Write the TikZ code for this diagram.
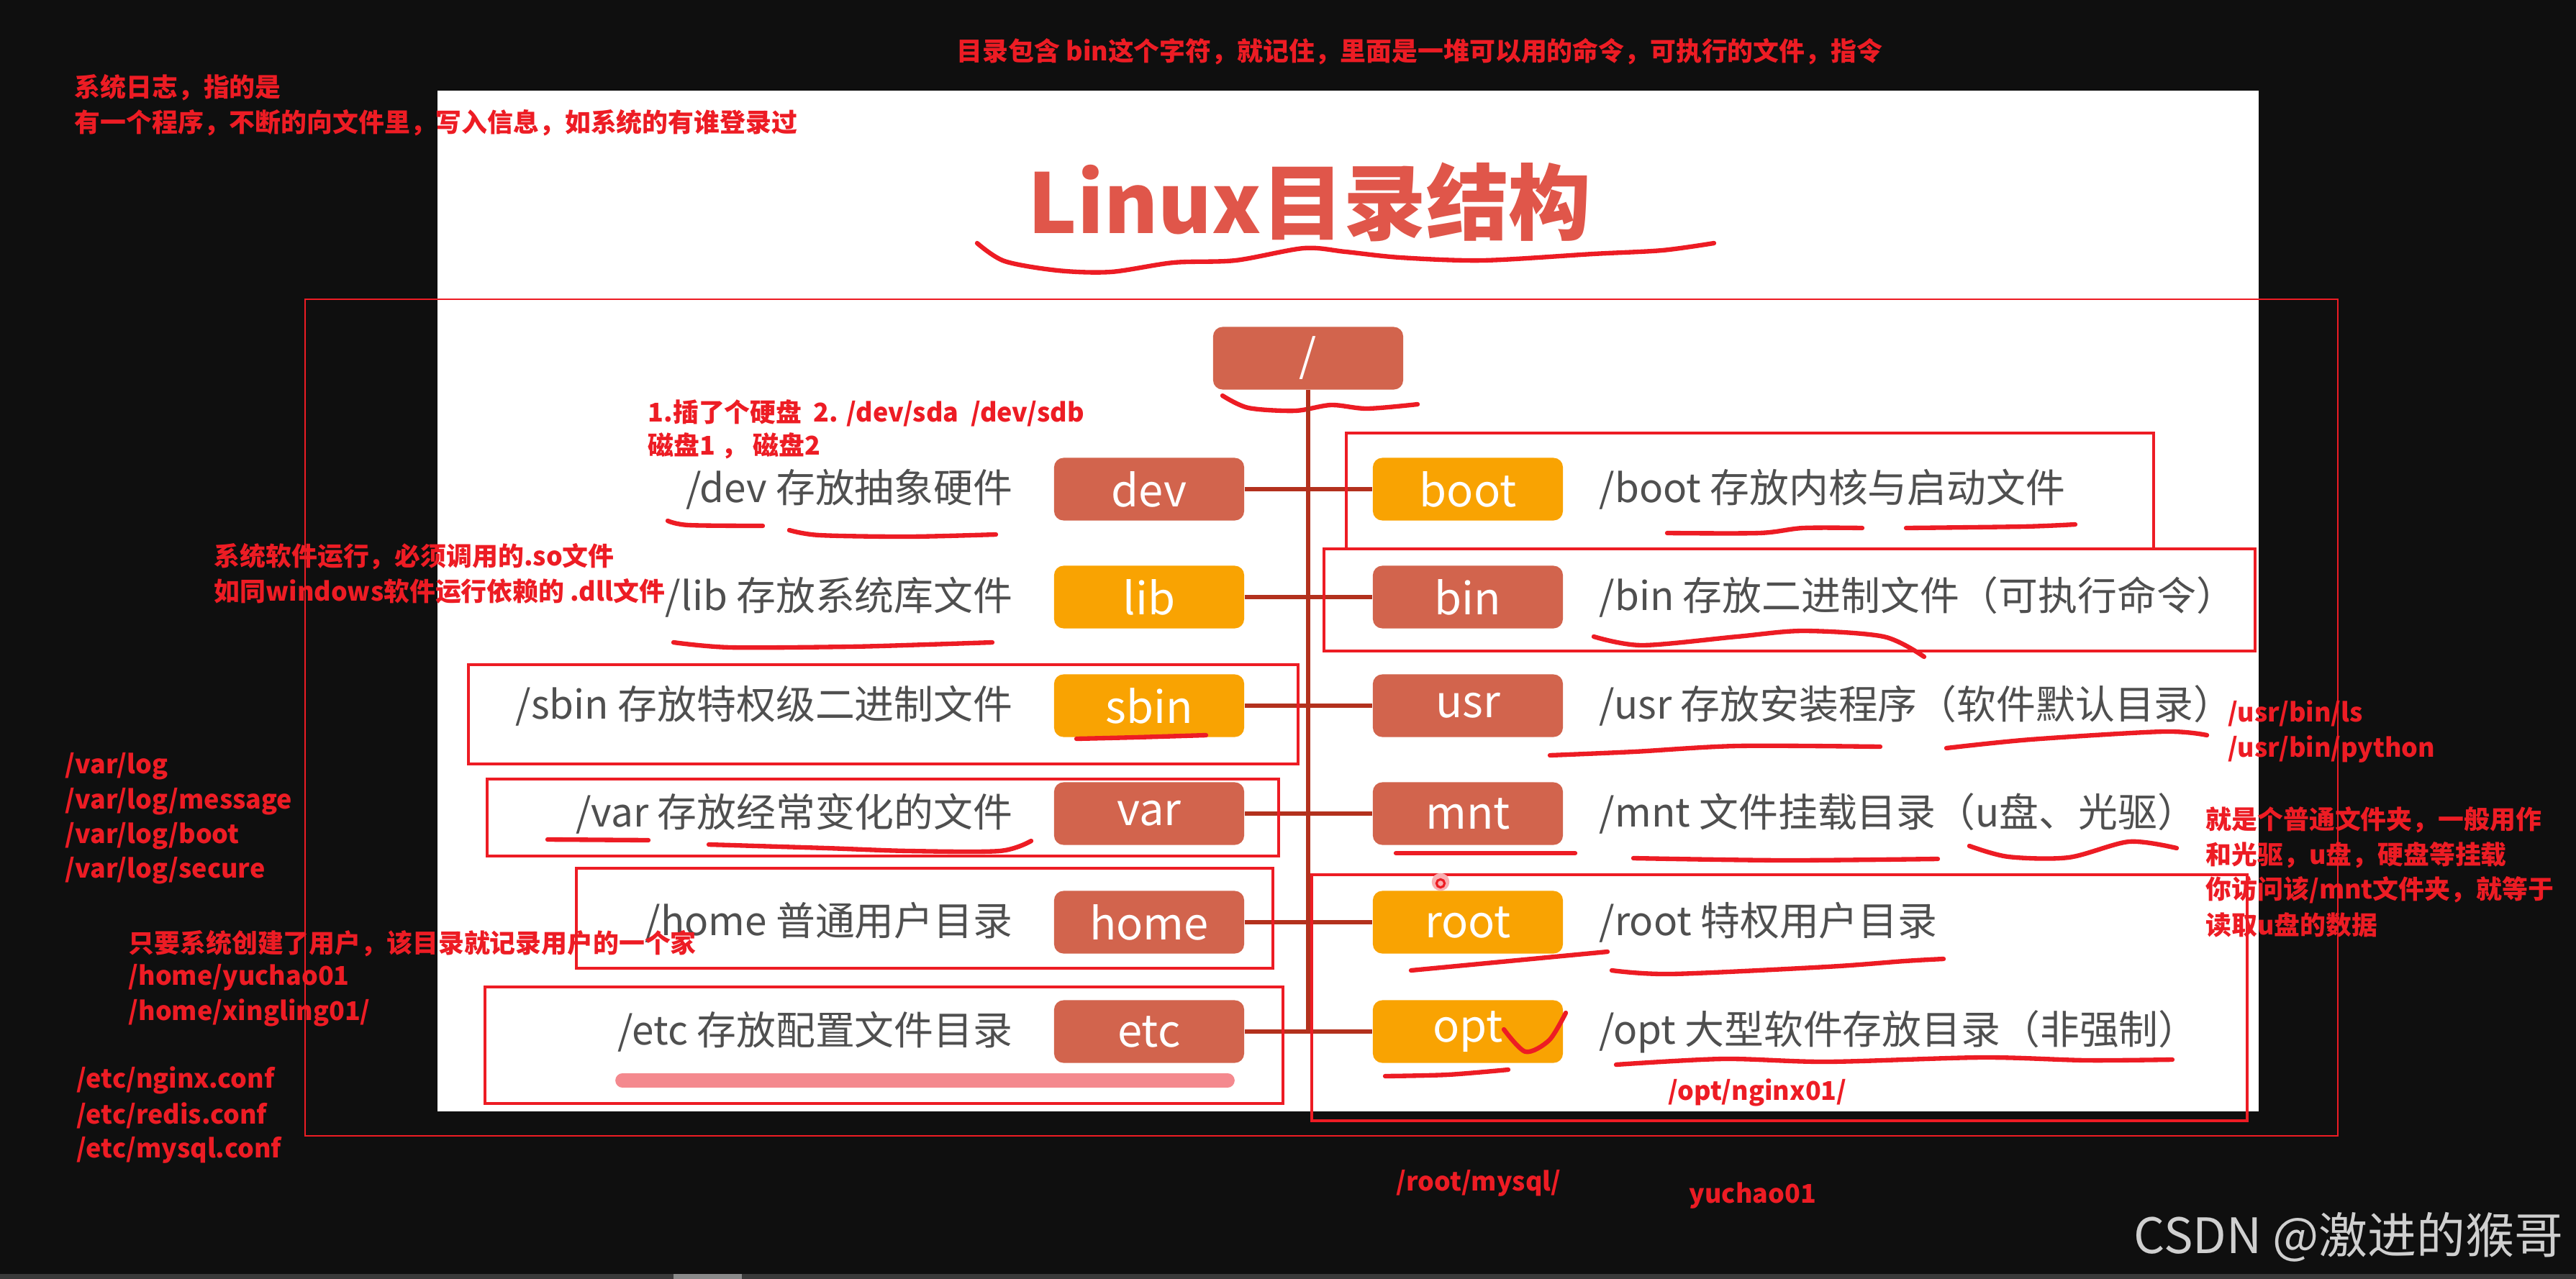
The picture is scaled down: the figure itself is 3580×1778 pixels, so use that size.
\documentclass[tikz,border=0pt]{standalone}
\usepackage{fontspec}
\setmainfont{Noto Sans CJK SC}
\definecolor{bgc}{HTML}{0F0F0F}
\definecolor{annc}{HTML}{ED1C24}
\definecolor{coral}{HTML}{D2644D}
\definecolor{amber}{HTML}{F9A302}
\definecolor{linkc}{HTML}{B3311D}
\definecolor{descc}{HTML}{4F4F4F}
\definecolor{titlec}{HTML}{E0564A}
\definecolor{hlc}{HTML}{F4898E}
\definecolor{wmc}{HTML}{CFCFCF}
\definecolor{barc}{HTML}{3A3A3A}
\definecolor{thumbc}{HTML}{8A8A8A}
\begin{document}
\begin{tikzpicture}[x=0.01cm,y=-0.01cm,
  ann/.style={text=annc,font=\fontsize{10.2}{12}\selectfont\bfseries,inner sep=0pt,anchor=west},
  desc/.style={text=descc,font=\fontsize{15.6}{18}\selectfont,inner sep=0pt},
  dirbox/.style={rounded corners=3.7pt,minimum width=2.64cm,minimum height=0.87cm,text=white,font=\fontsize{17.5}{20}\selectfont,inner sep=0pt},
  cb/.style={dirbox,fill=coral},
  ab/.style={dirbox,fill=amber},
  conn/.style={draw=linkc,line width=1.45pt},
  redbox/.style={draw=annc,line width=1.4pt},
  ul/.style={draw=annc,line width=1.8pt,line cap=round,line join=round}]
\useasboundingbox (0,0) rectangle (3580,1778);
\fill[bgc] (0,0) rectangle (3580,1778);
\fill[white] (608,126) rectangle (3139,1545);
\fill[barc] (0,1771) rectangle (3580,1778);
\fill[thumbc] (936,1771) rectangle (1031,1778);

% title
\node[text=titlec,font=\fontsize{32.6}{36}\selectfont\bfseries,anchor=west,inner sep=0pt] (title) at (1428,281) {Linux目录结构};
\draw[ul] plot[smooth] coordinates {(1358,338) (1396,363) (1470,376) (1544,378) (1631,365) (1717,362) (1812,345) (1870,350) (1946,358) (2061,362) (2214,353) (2310,348) (2382,338)};

% outer thin frame
\draw[annc,line width=0.8pt] (424,416) rectangle (3249,1579);

% root
\node[cb] (slash) at (1818,498) {/};
\draw[ul] plot[smooth] coordinates {(1699,550) (1735,567) (1800,571) (1850,563) (1900,568) (1970,562)};

% boxes
\node[cb] (devbox)  at (1597,680)  {dev};
\node[ab] (libbox)  at (1597,830)  {lib};
\node[ab] (sbinbox) at (1597,981)  {sbin};
\node[cb] (varbox)  at (1597,1131) {var};
\node[cb] (homebox) at (1597,1282) {home};
\node[cb] (etcbox)  at (1597,1434) {etc};
\node[ab] (bootbox) at (2040,680)  {boot};
\node[cb] (binbox)  at (2040,830)  {bin};
\node[cb] (usrbox)  at (2040,981)  {usr};
\node[cb] (mntbox)  at (2040,1131) {mnt};
\node[ab] (rootbox) at (2040,1282) {root};
\node[ab] (optbox)  at (2040,1434) {opt};

% connectors
\draw[conn] (slash.south) -- (slash.south |- optbox.west);
\draw[conn] (devbox.east) -- (bootbox.west);
\draw[conn] (libbox.east) -- (binbox.west);
\draw[conn] (sbinbox.east) -- (usrbox.west);
\draw[conn] (varbox.east) -- (mntbox.west);
\draw[conn] (homebox.east) -- (rootbox.west);
\draw[conn] (etcbox.east) -- (optbox.west);

% descriptions
\node[desc,anchor=east] (devtxt)  at (1408,680)  {/dev 存放抽象硬件};
\node[desc,anchor=east] (libtxt)  at (1408,830)  {/lib 存放系统库文件};
\node[desc,anchor=east] (sbintxt) at (1408,981)  {/sbin 存放特权级二进制文件};
\node[desc,anchor=east] (vartxt)  at (1408,1131) {/var 存放经常变化的文件};
\node[desc,anchor=east] (hometxt) at (1408,1282) {/home 普通用户目录};
\node[desc,anchor=east] (etctxt)  at (1408,1434) {/etc 存放配置文件目录};
\node[desc,anchor=west] (boottxt) at (2222,680)  {/boot 存放内核与启动文件};
\node[desc,anchor=west] (bintxt)  at (2222,830)  {/bin 存放二进制文件（可执行命令）};
\node[desc,anchor=west] (usrtxt)  at (2222,981)  {/usr 存放安装程序（软件默认目录）};
\node[desc,anchor=west] (mnttxt)  at (2222,1131) {/mnt 文件挂载目录（u盘、光驱）};
\node[desc,anchor=west] (roottxt) at (2222,1282) {/root 特权用户目录};
\node[desc,anchor=west] (opttxt)  at (2222,1434) {/opt 大型软件存放目录（非强制）};

% red annotation boxes
\draw[redbox] (1871,602) rectangle (2993,763);
\draw[redbox] (1840,763) rectangle (3134,905);
\draw[redbox] (651,924) rectangle (1804,1062);
\draw[redbox] (677,1083) rectangle (1777,1190);
\draw[redbox] (801,1207) rectangle (1769,1346);
\draw[redbox] (674,1372) rectangle (1783,1534);
\draw[redbox] (1823,1216) rectangle (3123,1558);

% underlines
\draw[ul] plot[smooth] coordinates {(928,724) (957,730) (1060,731)};
\draw[ul] plot[smooth] coordinates {(1097,737) (1139,744) (1263,746) (1384,743)};
\draw[ul] plot[smooth] coordinates {(936,893) (1015,900) (1180,899) (1288,896) (1379,893)};
\draw[ul] plot[smooth] coordinates {(1496,1027) (1578,1025) (1676,1022)};
\draw[ul] plot[smooth] coordinates {(2317,741) (2445,741) (2506,734) (2588,734)};
\draw[ul] plot[smooth] coordinates {(2649,734) (2812,732) (2884,729)};
\draw[ul] plot[smooth] coordinates {(2215,885) (2282,897) (2414,885) (2506,877) (2618,885) (2674,913)};
\draw[ul] plot[smooth] coordinates {(2154,1050) (2271,1045) (2414,1037) (2613,1038)};
\draw[ul] plot[smooth] coordinates {(2705,1040) (2822,1028) (3006,1017) (3067,1022)};
\draw[ul] (1940,1186) -- (2189,1186);
\draw[ul] plot[smooth] coordinates {(2270,1193) (2479,1196) (2693,1194)};
\draw[ul] plot[smooth] coordinates {(2737,1176) (2791,1191) (2875,1192) (2959,1170) (3025,1179)};
\draw[ul] (1961,1349) -- (2234,1323);
\draw[ul] plot[smooth] coordinates {(2240,1349) (2323,1354) (2539,1344) (2647,1336) (2701,1333)};
\draw[ul] plot[smooth] coordinates {(2090,1431) (2120,1462) (2153,1446) (2176,1408)};
\draw[ul] plot[smooth] coordinates {(1925,1496) (2012,1494) (2096,1487)};
\draw[ul] plot[smooth] coordinates {(2246,1480) (2395,1472) (2539,1476) (2755,1470) (2899,1474) (3019,1473)};
\draw[ul] (761,1167) -- (901,1168);
\draw[ul] plot[smooth] coordinates {(985,1174) (1148,1179) (1263,1183) (1389,1183) (1433,1169)};
\draw[hlc,line width=5.6pt,line cap=round] (865,1502) -- (1706,1502);

% cursor dot
\fill[annc!35] (2002,1226) circle[radius=3.5pt];
\draw[annc,line width=0.9pt] (2002,1228) circle[radius=1.6pt];

% annotations
\node[ann] (a1) at (1329,72) {目录包含 bin这个字符，就记住，里面是一堆可以用的命令，可执行的文件，指令};
\node[ann] (a2) at (103,122) {系统日志，指的是};
\node[ann] (a3) at (103,171) {有一个程序，不断的向文件里，写入信息，如系统的有谁登录过};
\node[ann] (a4) at (900,574) {1.插了个硬盘\ \ 2. /dev/sda\ \ /dev/sdb};
\node[ann] (a5) at (900,620) {磁盘1 ， 磁盘2};
\node[ann] (a6) at (297,774) {系统软件运行，必须调用的.so文件};
\node[ann] (a7) at (297,822) {如同windows软件运行依赖的 .dll文件};
\node[ann] (a8) at (90,1065) {/var/log};
\node[ann] (a9) at (90,1114) {/var/log/message};
\node[ann] (a10) at (90,1162) {/var/log/boot};
\node[ann] (a11) at (90,1210) {/var/log/secure};
\node[ann] (a12) at (178,1312) {只要系统创建了用户，该目录就记录用户的一个家};
\node[ann] (a13) at (178,1359) {/home/yuchao01};
\node[ann] (a14) at (178,1408) {/home/xingling01/};
\node[ann] (a15) at (106,1502) {/etc/nginx.conf};
\node[ann] (a16) at (106,1551) {/etc/redis.conf};
\node[ann] (a17) at (106,1599) {/etc/mysql.conf};
\node[ann] (a18) at (3096,992) {/usr/bin/ls};
\node[ann] (a19) at (3096,1042) {/usr/bin/python};
\node[ann] (a20) at (3065,1140) {就是个普通文件夹，一般用作};
\node[ann] (a21) at (3065,1189) {和光驱，u盘，硬盘等挂载};
\node[ann] (a22) at (3065,1237) {你访问该/mnt文件夹，就等于};
\node[ann] (a23) at (3065,1286) {读取u盘的数据};
\node[ann] (a24) at (2318,1519) {/opt/nginx01/};
\node[ann] (a25) at (1940,1645) {/root/mysql/};
\node[ann] (a26) at (2347,1662) {yuchao01};

% watermark
\node[text=wmc,font=\fontsize{19.3}{22}\selectfont,anchor=west,inner sep=0pt] (wm) at (2965,1720) {CSDN @激进的猴哥};
\end{tikzpicture}
\end{document}
